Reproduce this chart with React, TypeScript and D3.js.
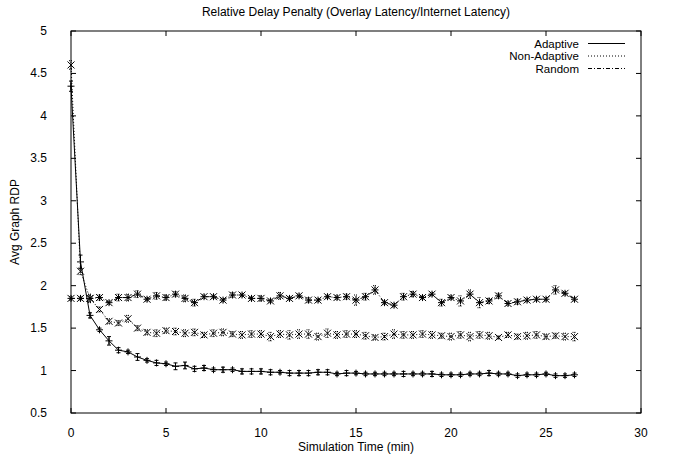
import React from 'react'
import * as d3 from 'd3'

// simulation time (min), one sample every half minute
const times = d3.range(0, 27, 0.5)

const adaptive = [
  4.35, 2.28, 1.65, 1.48, 1.35, 1.24, 1.22, 1.16, 1.12, 1.09, 1.08, 1.05, 1.06, 1.02,
  1.03, 1.01, 1.01, 1.01, 0.99, 0.99, 0.99, 0.98, 0.98, 0.97, 0.97, 0.97, 0.98, 0.98,
  0.96, 0.97, 0.97, 0.96, 0.96, 0.96, 0.96, 0.96, 0.96, 0.96, 0.96, 0.95, 0.95, 0.95,
  0.96, 0.96, 0.97, 0.96, 0.96, 0.94, 0.95, 0.95, 0.96, 0.94, 0.94, 0.95,
]
const adaptiveErr = [
  0.06, 0.08, 0.03, 0.02, 0.05, 0.03, 0.02, 0.04, 0.02, 0.03, 0.02, 0.04, 0.04, 0.03,
  0.03, 0.02, 0.03, 0.02, 0.03, 0.03, 0.03, 0.03, 0.02, 0.03, 0.03, 0.03, 0.03, 0.03,
  0.02, 0.03, 0.02, 0.02, 0.02, 0.02, 0.02, 0.03, 0.02, 0.02, 0.03, 0.02, 0.02, 0.02,
  0.02, 0.02, 0.03, 0.02, 0.02, 0.02, 0.02, 0.02, 0.02, 0.02, 0.02, 0.02,
]

const nonAdaptive = [
  4.6, 2.17, 1.85, 1.72, 1.58, 1.56, 1.61, 1.5, 1.45, 1.44, 1.47, 1.46, 1.44, 1.45,
  1.42, 1.44, 1.45, 1.43, 1.42, 1.43, 1.43, 1.4, 1.43, 1.42, 1.43, 1.43, 1.4, 1.44,
  1.42, 1.43, 1.43, 1.41, 1.39, 1.4, 1.43, 1.42, 1.42, 1.43, 1.42, 1.41, 1.4, 1.42,
  1.4, 1.42, 1.41, 1.39, 1.42, 1.4, 1.41, 1.42, 1.4, 1.41, 1.4, 1.4,
]
const nonAdaptiveErr = [
  0.05, 0.04, 0.05, 0.03, 0.03, 0.03, 0.04, 0.03, 0.03, 0.04, 0.03, 0.04, 0.04, 0.04,
  0.03, 0.04, 0.04, 0.03, 0.04, 0.04, 0.04, 0.05, 0.04, 0.05, 0.05, 0.05, 0.04, 0.05,
  0.04, 0.04, 0.04, 0.04, 0.03, 0.04, 0.05, 0.04, 0.04, 0.04, 0.04, 0.03, 0.04, 0.04,
  0.05, 0.04, 0.04, 0.02, 0.03, 0.03, 0.04, 0.04, 0.03, 0.03, 0.04, 0.05,
]

const random = [
  1.85, 1.85, 1.85, 1.86, 1.8, 1.86, 1.86, 1.9, 1.84, 1.88, 1.86, 1.9, 1.85, 1.8,
  1.87, 1.87, 1.83, 1.89, 1.89, 1.85, 1.85, 1.82, 1.88, 1.85, 1.88, 1.83, 1.83, 1.87,
  1.86, 1.87, 1.83, 1.87, 1.95, 1.8, 1.77, 1.87, 1.9, 1.86, 1.9, 1.8, 1.86, 1.82,
  1.9, 1.8, 1.82, 1.88, 1.79, 1.81, 1.83, 1.84, 1.84, 1.95, 1.91, 1.84,
]
const randomErr = [
  0.02, 0.02, 0.04, 0.03, 0.02, 0.04, 0.04, 0.04, 0.02, 0.04, 0.03, 0.03, 0.04, 0.04,
  0.02, 0.02, 0.02, 0.03, 0.02, 0.02, 0.03, 0.02, 0.04, 0.02, 0.02, 0.03, 0.02, 0.02,
  0.02, 0.03, 0.06, 0.04, 0.05, 0.02, 0.02, 0.04, 0.03, 0.02, 0.02, 0.04, 0.02, 0.06,
  0.05, 0.06, 0.03, 0.03, 0.02, 0.03, 0.02, 0.02, 0.02, 0.05, 0.02, 0.02,
]

const xTicks = [0, 5, 10, 15, 20, 25, 30]
const yTicks = [0.5, 1, 1.5, 2, 2.5, 3, 3.5, 4, 4.5, 5]

const W = 673
const H = 455
const left = 71
const right = 641
const top = 31
const bottom = 413
const font = '"Liberation Sans", Arial, sans-serif'

const x = d3.scaleLinear().domain([0, 30]).range([left, right])
const y = d3.scaleLinear().domain([0.5, 5]).range([bottom, top])

const series = [
  { name: 'Adaptive', values: adaptive, err: adaptiveErr, dash: 'none', mark: 'plus' },
  { name: 'Non-Adaptive', values: nonAdaptive, err: nonAdaptiveErr, dash: '1,2', mark: 'cross' },
  { name: 'Random', values: random, err: randomErr, dash: '4,2,1,2', mark: 'star' },
]

function marker(kind: string, cx: number, cy: number) {
  const s = 3.5
  const plus = `M${cx - s},${cy}H${cx + s}M${cx},${cy - s}V${cy + s}`
  const cross = `M${cx - s},${cy - s}L${cx + s},${cy + s}M${cx - s},${cy + s}L${cx + s},${cy - s}`
  if (kind === 'plus') return plus
  if (kind === 'cross') return cross
  return plus + cross
}

export default function App() {
  const line = d3
    .line<number>()
    .x((d, i) => x(times[i]))
    .y((d) => y(d))

  return (
    <svg
      width={W}
      height={H}
      style={{ position: 'absolute', left: 0, top: 0, background: '#fff' }}
      fontFamily={font}
      fontSize={12}
    >
      <text x={356} y={16} textAnchor="middle">
        Relative Delay Penalty (Overlay Latency/Internet Latency)
      </text>

      {/* ticks, mirrored on all sides */}
      {xTicks.map((t) => (
        <g key={'x' + t}>
          <line x1={x(t)} x2={x(t)} y1={bottom} y2={bottom - 5} stroke="#000" />
          <line x1={x(t)} x2={x(t)} y1={top} y2={top + 5} stroke="#000" />
          <text x={x(t)} y={437} textAnchor="middle">
            {t}
          </text>
        </g>
      ))}
      {yTicks.map((t) => (
        <g key={'y' + t}>
          <line x1={left} x2={left + 5} y1={y(t)} y2={y(t)} stroke="#000" />
          <line x1={right} x2={right - 5} y1={y(t)} y2={y(t)} stroke="#000" />
          <text x={47} y={y(t) + 4} textAnchor="end">
            {t}
          </text>
        </g>
      ))}

      <text x={356} y={451} textAnchor="middle">
        Simulation Time (min)
      </text>
      <text transform={`translate(19,${(top + bottom) / 2}) rotate(-90)`} textAnchor="middle">
        Avg Graph RDP
      </text>

      {series.map((s) => (
        <g key={s.name} fill="none" stroke="#000" strokeWidth={1}>
          <path d={line(s.values) || ''} strokeDasharray={s.dash} />
          {s.values.map((v, i) => {
            const cx = x(times[i])
            const y0 = y(v - s.err[i])
            const y1 = y(v + s.err[i])
            return (
              <g key={i}>
                <path
                  d={`M${cx},${y0}V${y1}M${cx - 2},${y0}H${cx + 2}M${cx - 2},${y1}H${cx + 2}`}
                  strokeDasharray={s.dash === 'none' ? 'none' : '1,1'}
                />
                <path d={marker(s.mark, cx, y(v))} />
              </g>
            )
          })}
        </g>
      ))}

      {/* legend */}
      {series.map((s, i) => (
        <g key={'leg' + s.name}>
          <text x={579} y={47.5 + i * 12.5} textAnchor="end" fontSize={11.5}>
            {s.name}
          </text>
          <line
            x1={588}
            x2={625}
            y1={43.5 + i * 12.5}
            y2={43.5 + i * 12.5}
            stroke="#000"
            strokeDasharray={s.dash}
          />
        </g>
      ))}

      <rect x={left} y={top} width={right - left} height={bottom - top} fill="none" stroke="#000" />
    </svg>
  )
}
